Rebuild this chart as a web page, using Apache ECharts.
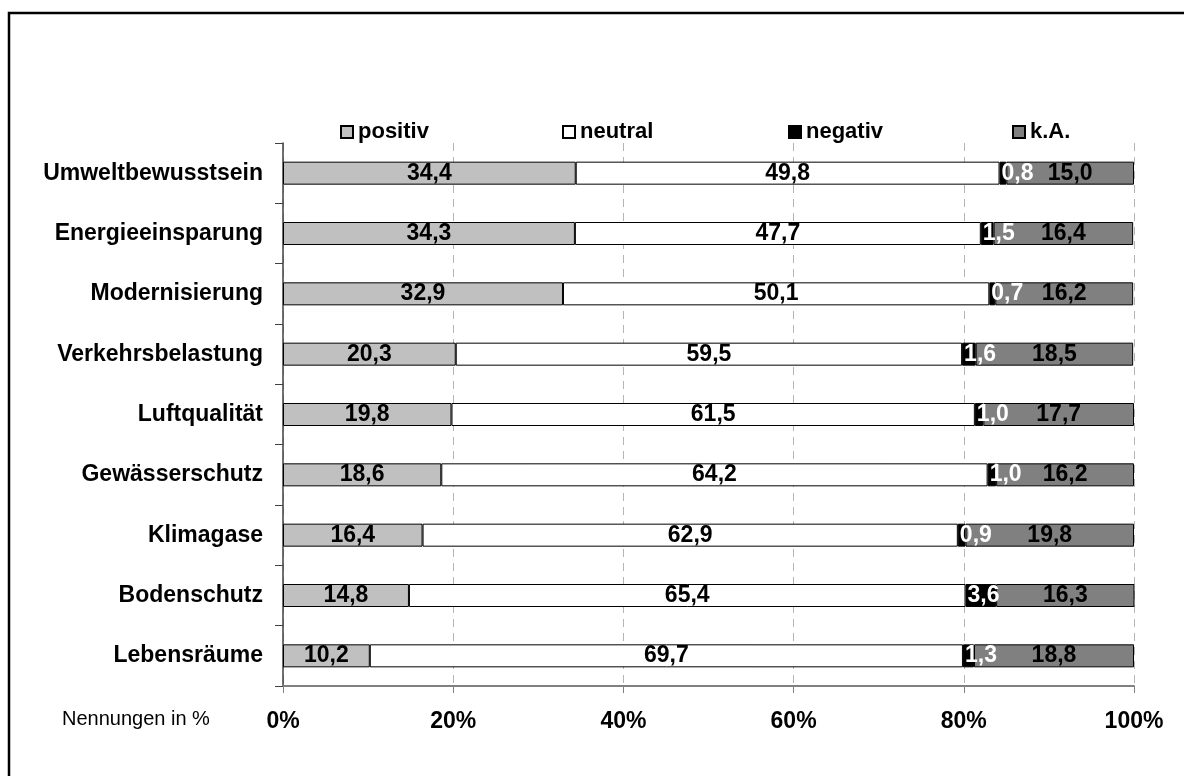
<!DOCTYPE html>
<html>
<head>
<meta charset="utf-8">
<script src="https://cdn.jsdelivr.net/npm/echarts@6/dist/echarts.min.js"></script>
<style>
  html, body { margin: 0; padding: 0; background: #fff; }
  #chart { width: 1184px; height: 776px; }
</style>
</head>
<body>
<div id="chart"></div>
<script>
// Kategorien von oben nach unten
let categories = [
  'Umweltbewusstsein',
  'Energieeinsparung',
  'Modernisierung',
  'Verkehrsbelastung',
  'Luftqualität',
  'Gewässerschutz',
  'Klimagase',
  'Bodenschutz',
  'Lebensräume'
]
let positivData = [34.4, 34.3, 32.9, 20.3, 19.8, 18.6, 16.4, 14.8, 10.2]
let neutralData = [49.8, 47.7, 50.1, 59.5, 61.5, 64.2, 62.9, 65.4, 69.7]
let negativData = [0.8, 1.5, 0.7, 1.6, 1.0, 1.0, 0.9, 3.6, 1.3]
let kaData = [15.0, 16.4, 16.2, 18.5, 17.7, 16.2, 19.8, 16.3, 18.8]
let xTicks = [0, 20, 40, 60, 80, 100]

let chart = echarts.init(document.getElementById('chart'))

let fmt = function (p) {
  return p.value.toFixed(1).replace('.', ',')
}
let labelFont = {
  fontFamily: 'Liberation Sans',
  fontSize: 23,
  fontWeight: 'bold'
}

function makeSeries (name, data, color, labelColor, pos) {
  return {
    name: name,
    type: 'bar',
    stack: 'all',
    barWidth: 23,
    data: data,
    itemStyle: {
      color: color,
      borderColor: '#000',
      borderWidth: 1
    },
    label: Object.assign({
      show: true,
      position: pos,
      distance: 2,
      color: labelColor,
      formatter: fmt
    }, labelFont)
  }
}

function makeLegend (name, left) {
  return {
    data: [name],
    left: left,
    top: 116,
    icon: 'rect',
    itemWidth: 12,
    itemHeight: 12,
    itemGap: 6,
    textStyle: {
      color: '#000',
      fontFamily: 'Liberation Sans',
      fontSize: 22,
      fontWeight: 'bold'
    }
  }
}

let option = {
  backgroundColor: '#fff',
  animation: false,
  legend: [
    makeLegend('positiv', 335),
    makeLegend('neutral', 557),
    makeLegend('negativ', 783),
    makeLegend('k.A.', 1007)
  ],
  grid: {
    left: 283,
    right: 50,
    top: 143,
    bottom: 90
  },
  xAxis: {
    type: 'value',
    min: xTicks[0],
    max: xTicks[xTicks.length - 1],
    interval: 20,
    axisLine: { show: true, lineStyle: { color: '#808080', width: 2 } },
    axisTick: { show: true, length: 7, lineStyle: { color: '#808080' } },
    splitLine: { show: true, lineStyle: { color: '#b4b4b4', type: [8, 6] } },
    axisLabel: Object.assign({
      color: '#000',
      margin: 24,
      formatter: '{value}%'
    }, labelFont)
  },
  yAxis: {
    type: 'category',
    inverse: true,
    data: categories,
    axisLine: { show: true, lineStyle: { color: '#404040', width: 1.5 } },
    axisTick: { show: true, length: 8, inside: false, lineStyle: { color: '#404040' } },
    axisLabel: Object.assign({
      color: '#000',
      margin: 20
    }, labelFont)
  },
  series: [
    makeSeries('positiv', positivData, '#c0c0c0', '#000', 'inside'),
    makeSeries('neutral', neutralData, '#ffffff', '#000', 'inside'),
    makeSeries('negativ', negativData, '#000000', '#fff', 'insideLeft'),
    makeSeries('k.A.', kaData, '#808080', '#000', 'inside')
  ],
  graphic: [
    {
      type: 'polyline',
      shape: { points: [[9, 790], [9, 13], [1190, 13]] },
      style: { stroke: '#000', lineWidth: 2.5, fill: null },
      silent: true
    },
    {
      type: 'text',
      left: 62,
      top: 709,
      style: {
        text: 'Nennungen in %',
        fill: '#000',
        font: '20px "Liberation Sans"'
      }
    }
  ]
}

chart.setOption(option)
</script>
</body>
</html>
